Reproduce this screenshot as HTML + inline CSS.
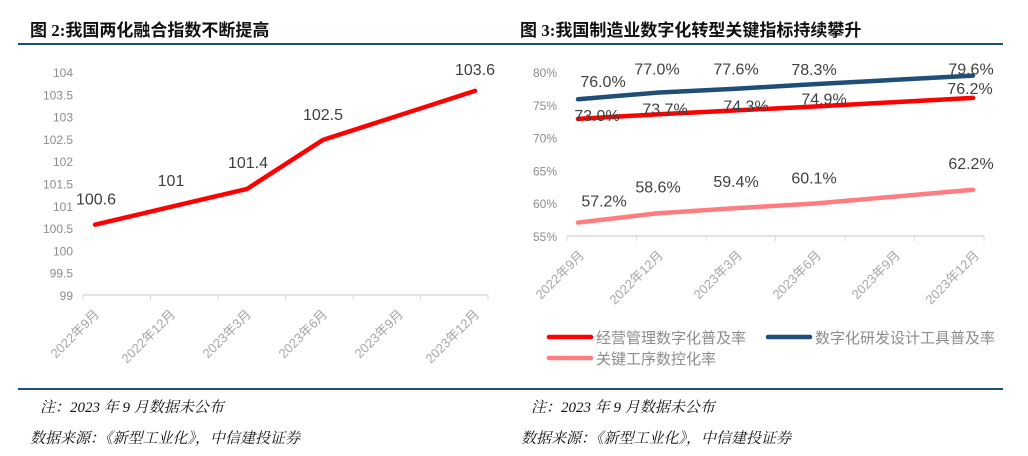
<!DOCTYPE html>
<html><head><meta charset="utf-8"><style>
body{margin:0;width:1028px;height:456px;background:#fff;overflow:hidden;font-family:"Liberation Sans","Noto Sans CJK SC",sans-serif;}
.t{position:absolute;font-weight:bold;font-size:17px;color:#111;font-family:"Liberation Serif","Noto Sans CJK SC",sans-serif;}
.n{position:absolute;font-style:italic;font-size:15px;color:#111;font-family:"Liberation Serif","Noto Serif CJK SC",serif;}
.hr{position:absolute;height:2px;background:#1f4e79;}
svg{position:absolute;left:0;top:0}
</style></head><body>
<div class="t" style="left:30px;top:16px">图 2:我国两化融合指数不断提高</div>
<div class="t" style="left:520px;top:16px">图 3:我国制造业数字化转型关键指标持续攀升</div>
<div class="hr" style="left:18px;top:43px;width:502px"></div>
<div class="hr" style="left:510px;top:43px;width:493px"></div>
<div class="hr" style="left:18px;top:388px;width:502px"></div>
<div class="hr" style="left:510px;top:388px;width:493px"></div>
<div class="n" style="left:40px;top:396px">注：2023 年 9 月数据未公布</div>
<div class="n" style="left:30px;top:427px">数据来源：《新型工业化》，中信建投证券</div>
<div class="n" style="left:531px;top:396px">注：2023 年 9 月数据未公布</div>
<div class="n" style="left:521px;top:427px">数据来源：《新型工业化》，中信建投证券</div>
<svg id="svg" width="1028" height="456" xmlns="http://www.w3.org/2000/svg"></svg>
<script>
const categories=["2022年9月","2022年12月","2023年3月","2023年6月","2023年9月","2023年12月"];
const indexValues=[100.6,101,101.4,102.5,null,103.6];
const leftTicks=[99,99.5,100,100.5,101,101.5,102,102.5,103,103.5,104];
const mgmtValues=[73.0,73.7,74.3,74.9,null,76.2];
const rdValues=[76.0,77.0,77.6,78.3,null,79.6];
const cncValues=[57.2,58.6,59.4,60.1,null,62.2];
const rightTicks=[55,60,65,70,75,80];
const seriesNames=["经营管理数字化普及率","数字化研发设计工具普及率","关键工序数控化率"];

const svg=document.getElementById('svg');
const NS="http://www.w3.org/2000/svg";
function mk(tag,attrs,name){const e=document.createElementNS(NS,tag);for(const k in attrs)e.setAttribute(k,attrs[k]);


svg.appendChild(e);return e;}
function txt(x,y,s,attrs,name){const e=mk('text',Object.assign({x:x,y:y},attrs),name);e.textContent=s;return e;}

function drawChart(o){
  const yS=v=>o.y0+(v-o.vmin)/(o.vmax-o.vmin)*(o.y1-o.y0);
  const xS=i=>o.px0+i*o.pstep;
  o.ticks.forEach(t=>txt(o.tickX,yS(t)+4,o.fmtTick(t),{'text-anchor':'end','font-size':12,fill:'#8c8c8c'},'y-tick-label'));
  mk('line',{x1:o.ax0,x2:o.ax1,y1:o.axisY,y2:o.axisY,stroke:'#d9d9d9','stroke-width':1.5},'x-axis-line');
  for(let i=0;i<=categories.length;i++){const x=o.ax0+i*(o.ax1-o.ax0)/categories.length;
    mk('line',{x1:x,x2:x,y1:o.axisY,y2:o.axisY+5,stroke:'#d9d9d9','stroke-width':1},'x-tick');}
  categories.forEach((c,i)=>{const x=xS(i)+o.lblOff,y=o.axisY+20;
    txt(x,y,c,{'text-anchor':'end','font-size':13,fill:'#a6a6a6',transform:`rotate(-45 ${x} ${y})`},'x-tick-label');});
  o.series.forEach(s=>{
    const pts=[];s.values.forEach((v,i)=>{if(v!=null)pts.push([xS(i),yS(v),v,i]);});
    mk('polyline',{points:pts.map(p=>p[0]+','+p[1]).join(' '),fill:'none',stroke:s.color,'stroke-width':s.w,'stroke-linecap':'round','stroke-linejoin':'round'},s.name);
    pts.forEach((p,k)=>{const d=s.lbl[k];txt(p[0]+d[0],p[1]+d[1],s.fmt(p[2]),{'text-anchor':'middle','font-size':16,fill:'#404040'},'data-label');});
  });
}
drawChart({vmin:99,vmax:104,y0:296,y1:73,tickX:73,ax0:83,ax1:488,axisY:295,px0:95,pstep:76,lblOff:5,
  fmtTick:t=>String(t),ticks:leftTicks,
  series:[{name:'index-line',values:indexValues,color:'#ff0000',w:4.5,fmt:v=>String(v),
    lbl:[[1,-20],[0,-21],[1,-21],[0,-20],[0,-16]]}]});
drawChart({vmin:55,vmax:80,y0:237,y1:73,tickX:557,ax0:567,ax1:984,axisY:236,px0:578,pstep:79,lblOff:7,
  fmtTick:t=>t+'%',ticks:rightTicks,
  series:[
   {name:'rd-tool-line',values:rdValues,color:'#1f4e79',w:4.5,fmt:v=>v.toFixed(1)+'%',lbl:[[25,-12],[0,-18],[0,-14],[-1,-9],[-2,-1]]},
   {name:'mgmt-line',values:mgmtValues,color:'#ff0000',w:4.5,fmt:v=>v.toFixed(1)+'%',lbl:[[19,2],[8,0],[10,1],[9,-2],[-3,-4]]},
   {name:'cnc-line',values:cncValues,color:'#ff7c80',w:4.5,fmt:v=>v.toFixed(1)+'%',lbl:[[26,-16],[1,-21],[0,-21],[-1,-20],[-2,-21]]}]});
const legend=[[549,337,'#ff0000'],[768,337,'#1f4e79'],[549,358,'#ff7c80']];
legend.forEach((l,i)=>{mk('line',{x1:l[0],x2:l[0]+42,y1:l[1],y2:l[1],stroke:l[2],'stroke-width':4.5,'stroke-linecap':'round'},'legend-swatch');
  txt(l[0]+47,l[1]+6,seriesNames[i],{'font-size':15,fill:'#8c8c8c'},'legend-entry');});
</script>
</body></html>
